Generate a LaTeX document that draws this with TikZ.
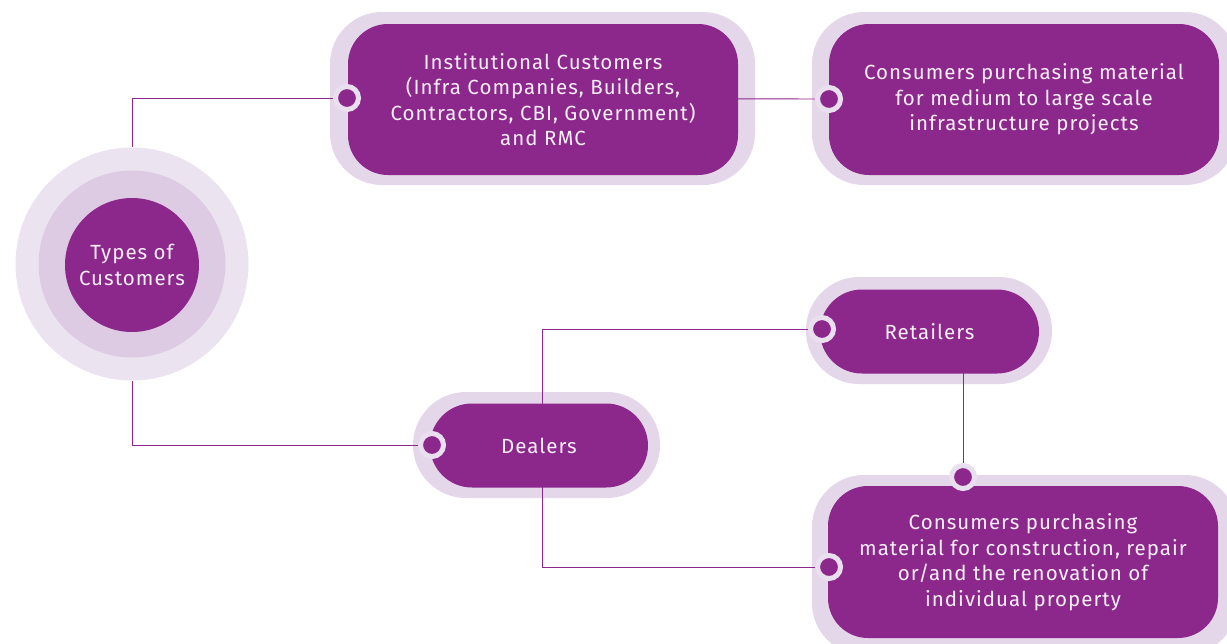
\documentclass[tikz,border=0pt]{standalone}
\usepackage{fontspec}
\setmainfont{Fira Sans}[LetterSpace=5]
\begin{document}
\begin{tikzpicture}[x=1pt,y=-1pt,
  halo/.style={fill=haloc, draw=none, inner sep=0pt},
  box/.style={fill=mainp, draw=none, inner sep=0pt, text=txtc, align=center, font=\fontsize{20.5}{25.5}\selectfont},
  dotn/.style={circle, fill=mainp, draw=ringc, line width=5pt, minimum size=23pt, inner sep=0pt},
  conn/.style={draw=mainp, line width=0.9pt}]
\definecolor{mainp}{HTML}{8C278C}
\definecolor{haloc}{HTML}{E5D7EA}
\definecolor{ringc}{HTML}{EADFEE}
\definecolor{txtc}{HTML}{F7F0F7}
\definecolor{ring1}{HTML}{EBE3F0}
\definecolor{ring2}{HTML}{DDCBE3}
\useasboundingbox[fill=white] (0,0) rectangle (1227,643);
% centre circles
\node[circle, fill=ring1, minimum size=233pt, inner sep=0pt] (c0) at (132,264) {};
\node[circle, fill=ring2, minimum size=187pt, inner sep=0pt] (c1) at (132,264) {};
% halos
\node[halo, minimum width=425pt, minimum height=173pt, rounded corners=52pt] (h1) at (542.5,98.5) {};
\node[halo, minimum width=425pt, minimum height=173pt, rounded corners=52pt] (h2) at (1024.5,98.5) {};
\node[halo, minimum width=246pt, minimum height=107pt, rounded corners=53pt] (h3) at (929,330.5) {};
\node[halo, minimum width=247pt, minimum height=106pt, rounded corners=53pt] (h4) at (536.5,445) {};
\node[halo, minimum width=425pt, minimum height=180pt, rounded corners=52pt] (h5) at (1024.5,565) {};
% connector anchors (dots)
\coordinate (p1) at (347,98);
\coordinate (p2) at (829,99);
\coordinate (p3) at (822,329);
\coordinate (p4) at (432,445);
\coordinate (p5) at (963,477);
\coordinate (p6) at (829,567);
% connectors
\draw[conn] (c0.north) |- (p1);
\draw[conn] (c0.south) |- (p4);
\draw[conn] (543,98.5) -- (p2);
\draw[conn] (542,445) |- (p3);
\draw[conn] (542,445) |- (p6);
\draw[conn] (p5 |- 330,330) -- (p5);
% boxes
\node[circle, fill=mainp, minimum size=134pt, inner sep=0pt, text=txtc, align=center, font=\fontsize{20.5}{25.5}\selectfont] (c2) at (132,265) {Types of\\Customers};
\node[box, minimum width=390pt, minimum height=151pt, rounded corners=40pt] (b1) at (543,99.5) {Institutional Customers\\(Infra Companies, Builders,\\Contractors, CBI, Government)\\and RMC};
\node[box, minimum width=390pt, minimum height=151pt, rounded corners=40pt] (b2) at (1024,99.5) {Consumers purchasing material\\for medium to large scale\\infrastructure projects};
\node[box, minimum width=219pt, minimum height=84pt, rounded corners=42pt] (b3) at (929.5,331.5) {Retailers};
\node[box, minimum width=218pt, minimum height=84pt, rounded corners=42pt] (b4) at (539,445.5) {Dealers};
\node[box, minimum width=390pt, minimum height=152pt, rounded corners=40pt] (b5) at (1023,562) {Consumers purchasing\\material for construction, repair\\or/and the renovation of\\individual property};
% dots
\node[dotn] (d1) at (p1) {};
\node[dotn] (d2) at (p2) {};
\node[dotn] (d3) at (p3) {};
\node[dotn] (d4) at (p4) {};
\node[dotn] (d5) at (p5) {};
\node[dotn] (d6) at (p6) {};
\end{tikzpicture}
\end{document}
